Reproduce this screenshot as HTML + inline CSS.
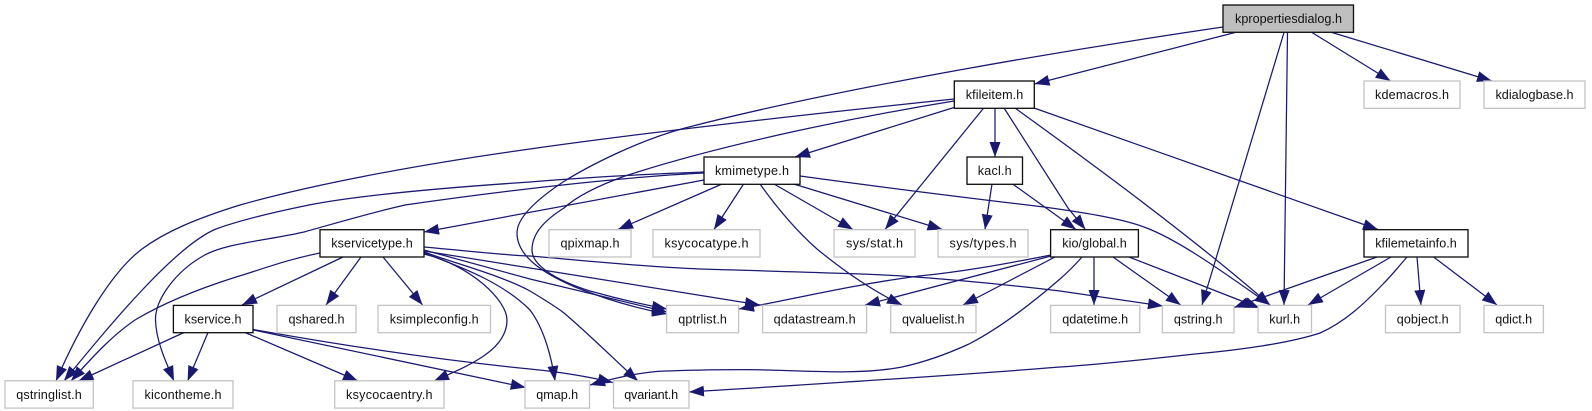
<!DOCTYPE html>
<html><head><meta charset="utf-8"><style>
html,body{margin:0;padding:0;background:#fff}
svg{display:block}
text{font-family:"Liberation Sans",sans-serif;font-size:12.6px;fill:#111;text-anchor:middle}
.e path{fill:none;stroke:#191970;stroke-width:1.25;marker-end:url(#a)}
.b rect{fill:#fff;stroke:#111;stroke-width:1.33}
.g rect{fill:#fff;stroke:#c4c4c4;stroke-width:1.33}
</style></head><body>
<svg width="1592" height="411" viewBox="0 0 1592 411" xmlns="http://www.w3.org/2000/svg">
<defs><marker id="a" markerUnits="userSpaceOnUse" markerWidth="17" markerHeight="13" refX="15" refY="5.5" orient="auto"><path d="M0,0L15,5.5L0,11Z" fill="#191970"/></marker></defs>
<g class="e">
<path d="M1223,27C1100,45 850,85 685,128C640,140 590,165 563,182C545,194 517,215 517,233C517,255 540,272 575,287C610,301 640,309 667,314"/>
<path d="M954,101C850,118 720,145 625,176C600,185 577,196 564,208C545,220 532,233 532,250C532,265 555,280 590,291C615,298 640,304 667,309"/>
<path d="M1235,32.5L1034.5,84"/>
<path d="M1284,32.5L1202,305"/>
<path d="M1287.5,32.5L1284,305"/>
<path d="M1312,32.5L1390.6,81"/>
<path d="M1332,32.5L1492,81"/>
<path d="M954,99C800,115 650,132 530,149C400,167 300,188 240,205C195,219 165,232 142,249C110,273 78,330 56,381"/>
<path d="M954,107.5L795,157"/>
<path d="M983.7,108L885,229.5"/>
<path d="M995,108L995,157"/>
<path d="M1004,108L1068,208L1085.4,229.5"/>
<path d="M1015,108C1080,155 1190,235 1270,305"/>
<path d="M1034,108L1378,229.5"/>
<path d="M704,172C650,174 590,177 530,182C440,188 360,195 309,205C260,215 235,222 216,229C175,246 110,325 64,381"/>
<path d="M704,173C640,176 530,187 405,205C370,213 340,222 304,232C270,240 225,243 203,256C175,272 155,300 155.5,320C156,340 165,360 174,381"/>
<path d="M704,180L424,232"/>
<path d="M722,184L618,229.5"/>
<path d="M743.6,184L714,229.5"/>
<path d="M760,184C770,198 790,225 817,249C845,272 875,292 902,305"/>
<path d="M774,184L853,229.5"/>
<path d="M793.7,184L942.5,229.5"/>
<path d="M800,176C880,187 960,197 1044,207C1080,212 1120,218 1144,227C1180,240 1230,277 1270,305"/>
<path d="M992,184L985,229.5"/>
<path d="M1012.7,184L1076,229.5"/>
<path d="M343,257L242,305"/>
<path d="M361,257L326,305"/>
<path d="M383,257L422.6,305"/>
<path d="M320,253C285,260 260,270 236,277C195,290 160,305 135,320C110,337 90,360 71,381"/>
<path d="M424,254C470,265 507,300 507,320C507,350 470,365 434,381"/>
<path d="M424,252C460,265 500,275 530,291C545,300 555,306 564,313C590,335 620,365 638,381"/>
<path d="M424,253C470,270 505,285 530,310C545,330 552,360 555,381"/>
<path d="M424,247C470,251 500,255 530,256C600,262 650,267 700,269C800,272 880,274 902,276C960,280 1010,285 1060,291L1163,306"/>
<path d="M424,251L530,268L760,305"/>
<path d="M424,250L530,279L667,312"/>
<path d="M1051,255C1000,265 960,272 919,276C850,285 790,300 739,309"/>
<path d="M1051,256L865,305"/>
<path d="M1055,257L963,305"/>
<path d="M1082,257C1075,265 1068,272 1060,279C1030,305 1000,328 969,344C945,355 925,362 902,367C860,375 810,371 767,370C730,369 700,370 665,371C640,372 615,378 590,385"/>
<path d="M1094,257L1094,305"/>
<path d="M1113,257L1180.7,305"/>
<path d="M1129,257L1259.5,308"/>
<path d="M1377,257L1234,307.5"/>
<path d="M1391,257L1308,305"/>
<path d="M1407,257C1400,265 1392,275 1384,283C1365,303 1345,322 1320,333C1290,343 1240,350 1195,354C1150,359 1105,364 1060,367C950,376 800,385 689,392"/>
<path d="M1417,257L1421,305"/>
<path d="M1433.6,257L1497,305"/>
<path d="M184,332.5L78.5,381"/>
<path d="M208,332.5L187.6,381"/>
<path d="M245,332.5L358,381"/>
<path d="M253.5,330L525.7,387.5"/>
<path d="M253.5,329.5C340,345 440,360 530,369C560,372 590,377 612.8,382.5"/>
</g>
<g class="b">
<rect x="1223" y="5" width="130.5" height="27.3" style="fill:#bfbfbf"/><text x="1288.5" y="23" textLength="107">kpropertiesdialog.h</text>
<rect x="954.3" y="81" width="80" height="27.3"/><text x="994.5" y="99" textLength="57.5">kfileitem.h</text>
<rect x="704" y="157" width="96" height="27.3"/><text x="752" y="175" textLength="74">kmimetype.h</text>
<rect x="967" y="157" width="55.5" height="27.3"/><text x="994.7" y="175" textLength="34">kacl.h</text>
<rect x="320" y="229.7" width="104" height="27.3"/><text x="372" y="247.7" textLength="81.5">kservicetype.h</text>
<rect x="1050.6" y="229.7" width="87.8" height="27.3"/><text x="1094.5" y="247.7" textLength="64.5">kio/global.h</text>
<rect x="1364" y="229.7" width="104" height="27.3"/><text x="1416" y="247.7" textLength="81.5">kfilemetainfo.h</text>
<rect x="173.4" y="305.4" width="79.6" height="27.3"/><text x="213" y="323.4" textLength="57">kservice.h</text>
</g>
<g class="g">
<rect x="1364" y="81" width="96" height="27.3"/><text x="1412" y="99" textLength="74">kdemacros.h</text>
<rect x="1484" y="81" width="101" height="27.3"/><text x="1534.5" y="99" textLength="78">kdialogbase.h</text>
<rect x="549" y="229.7" width="82" height="27.3"/><text x="590" y="247.7" textLength="59">qpixmap.h</text>
<rect x="653" y="229.7" width="107" height="27.3"/><text x="706.5" y="247.7" textLength="84">ksycocatype.h</text>
<rect x="834" y="229.7" width="81" height="27.3"/><text x="874.5" y="247.7" textLength="57">sys/stat.h</text>
<rect x="938" y="229.7" width="90" height="27.3"/><text x="983" y="247.7" textLength="67">sys/types.h</text>
<rect x="277" y="305.4" width="79" height="27.3"/><text x="316.5" y="323.4" textLength="56">qshared.h</text>
<rect x="378" y="305.4" width="112.5" height="27.3"/><text x="434.2" y="323.4" textLength="89">ksimpleconfig.h</text>
<rect x="666.6" y="305.4" width="72" height="27.3"/><text x="702.6" y="323.4" textLength="48.7">qptrlist.h</text>
<rect x="762.6" y="305.4" width="104" height="27.3"/><text x="814.6" y="323.4" textLength="82">qdatastream.h</text>
<rect x="890.7" y="305.4" width="85.3" height="27.3"/><text x="933.3" y="323.4" textLength="62.5">qvaluelist.h</text>
<rect x="1050.6" y="305.4" width="89.2" height="27.3"/><text x="1095.2" y="323.4" textLength="66">qdatetime.h</text>
<rect x="1162.4" y="305.4" width="71.6" height="27.3"/><text x="1198.2" y="323.4" textLength="48.7">qstring.h</text>
<rect x="1258" y="305.4" width="53.5" height="27.3"/><text x="1284.7" y="323.4" textLength="30.8">kurl.h</text>
<rect x="1385.5" y="305.4" width="74.5" height="27.3"/><text x="1422.7" y="323.4" textLength="52">qobject.h</text>
<rect x="1484" y="305.4" width="59.4" height="27.3"/><text x="1513.7" y="323.4" textLength="37">qdict.h</text>
<rect x="5" y="380.8" width="88.3" height="27.3"/><text x="49" y="398.8" textLength="65.5">qstringlist.h</text>
<rect x="133" y="380.8" width="100" height="27.3"/><text x="183" y="398.8" textLength="77">kicontheme.h</text>
<rect x="334.7" y="380.8" width="109.3" height="27.3"/><text x="389.3" y="398.8" textLength="86.5">ksycocaentry.h</text>
<rect x="525" y="380.8" width="64.5" height="27.3"/><text x="557.2" y="398.8" textLength="42">qmap.h</text>
<rect x="613.5" y="380.8" width="75.5" height="27.3"/><text x="651.2" y="398.8" textLength="54">qvariant.h</text>
</g>
</svg>
</body></html>
